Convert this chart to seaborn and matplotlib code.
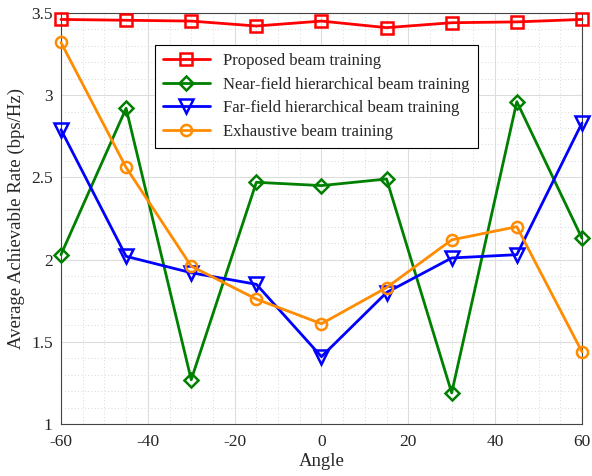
import numpy as np
import pandas as pd
import matplotlib
matplotlib.use('Agg')
import matplotlib.pyplot as plt
from matplotlib.ticker import MultipleLocator
import seaborn as sns

angles = [-60, -45, -30, -15, 0, 15, 30, 45, 60]
proposed = [3.46, 3.455, 3.45, 3.42, 3.45, 3.41, 3.44, 3.445, 3.46]
near_field = [2.03, 2.92, 1.27, 2.47, 2.45, 2.49, 1.19, 2.96, 2.13]
far_field = [2.79, 2.02, 1.92, 1.85, 1.41, 1.80, 2.01, 2.03, 2.83]
exhaustive = [3.32, 2.56, 1.96, 1.76, 1.61, 1.83, 2.12, 2.20, 1.44]

series = [
    ('Proposed beam training', proposed, 'red', 's'),
    ('Near-field hierarchical beam training', near_field, 'green', 'D'),
    ('Far-field hierarchical beam training', far_field, 'blue', 'v'),
    ('Exhaustive beam training', exhaustive, 'darkorange', 'o'),
]

sns.set_style('white')
plt.rcParams['font.family'] = ['Liberation Serif', 'DejaVu Serif']
plt.rcParams['axes.unicode_minus'] = False

fig = plt.figure(figsize=(5.92, 4.76), dpi=100)
ax = fig.add_axes([0.103, 0.109, 0.880, 0.864])

for name, vals, col, mk in series:
    df = pd.DataFrame({'Angle': angles, 'Rate': vals})
    ms = 8 if mk != 'D' else 7
    if mk == 'v':
        ms = 10
    sns.lineplot(data=df, x='Angle', y='Rate', ax=ax, color=col, marker=mk,
                 markersize=ms, markerfacecolor='none', markeredgecolor=col,
                 markeredgewidth=1.8, linewidth=2, label=name, clip_on=False,
                 zorder=3)

ax.set_xlim(-60, 60)
ax.set_ylim(1, 3.5)
ax.xaxis.set_major_locator(MultipleLocator(20))
ax.xaxis.set_minor_locator(MultipleLocator(5))
ax.yaxis.set_minor_locator(MultipleLocator(0.1))
ax.set_yticks([1, 1.5, 2, 2.5, 3, 3.5])
ax.set_yticklabels(['1', '1.5', '2', '2.5', '3', '3.5'])
ax.grid(which='major', color='#dddddd', linewidth=0.8)
ax.grid(which='minor', color='#cccccc', linestyle=(0, (1, 3)), linewidth=0.6)
ax.set_axisbelow(True)
ax.tick_params(which='both', direction='in', labelsize=12.5)
ax.tick_params(axis='x', pad=7)
ax.tick_params(axis='y', pad=6)
ax.tick_params(which='minor', length=0)
ax.tick_params(which='major', length=4, color='#444444')
for s in ax.spines.values():
    s.set_color('#444444')
    s.set_linewidth(0.8)
ax.set_xlabel('Angle', fontsize=13.5, labelpad=2)
ax.set_ylabel('Average Achievable Rate (bps/Hz)', fontsize=13.5, labelpad=4)

leg = ax.legend(loc='upper left', bbox_to_anchor=(0.18, 0.922), fontsize=12,
                frameon=True, fancybox=False, edgecolor='black', framealpha=1,
                handlelength=2.8, borderpad=0.5, labelspacing=0.45,
                borderaxespad=0)
leg.get_frame().set_linewidth(0.8)

fig.savefig('out.png', dpi=100)
